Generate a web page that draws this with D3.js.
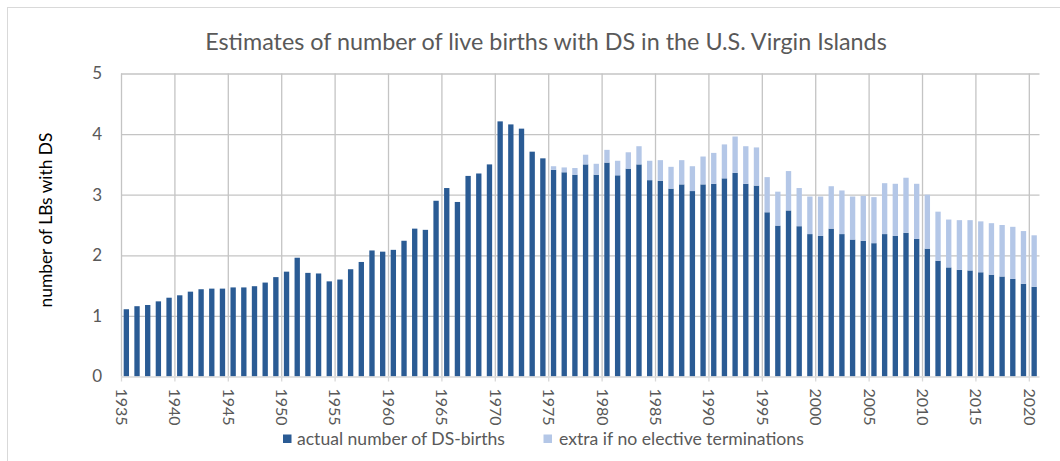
<!DOCTYPE html>
<html>
<head>
<meta charset="utf-8">
<script src="https://cdn.jsdelivr.net/npm/d3@7"></script>
<style>
  html, body { margin: 0; padding: 0; background: #fff; }
  svg { display: block; }
  text { font-family: Lato, "Open Sans", sans-serif; }
</style>
</head>
<body>
<svg id="chart" width="1060" height="461"></svg>
<script>
const years = [1935,1936,1937,1938,1939,1940,1941,1942,1943,1944,1945,1946,1947,1948,1949,
  1950,1951,1952,1953,1954,1955,1956,1957,1958,1959,1960,1961,1962,1963,1964,
  1965,1966,1967,1968,1969,1970,1971,1972,1973,1974,1975,1976,1977,1978,1979,
  1980,1981,1982,1983,1984,1985,1986,1987,1988,1989,1990,1991,1992,1993,1994,
  1995,1996,1997,1998,1999,2000,2001,2002,2003,2004,2005,2006,2007,2008,2009,
  2010,2011,2012,2013,2014,2015,2016,2017,2018,2019,2020];

const actual = [1.11,1.16,1.18,1.24,1.30,1.34,1.40,1.44,1.45,1.45,1.47,1.47,1.49,1.55,1.64,
  1.73,1.96,1.71,1.70,1.57,1.60,1.77,1.89,2.08,2.06,2.09,2.24,2.44,2.42,2.90,
  3.11,2.88,3.31,3.35,3.50,4.21,4.16,4.09,3.71,3.60,3.41,3.37,3.33,3.50,3.33,
  3.53,3.32,3.43,3.50,3.24,3.23,3.10,3.17,3.06,3.17,3.18,3.27,3.36,3.18,3.15,
  2.71,2.49,2.74,2.48,2.35,2.32,2.44,2.35,2.26,2.24,2.20,2.35,2.32,2.37,2.27,
  2.11,1.91,1.80,1.76,1.75,1.72,1.68,1.65,1.61,1.53,1.48];

const extra = [0,0,0,0,0,0,0,0,0,0,0,0,0,0,0,
  0,0,0,0,0,0,0,0,0,0,0,0,0,0,0,
  0,0,0,0,0,0,0,0,0,0,0.06,0.08,0.11,0.16,0.18,
  0.21,0.24,0.27,0.30,0.32,0.34,0.36,0.40,0.41,0.46,0.51,0.56,0.60,0.62,0.63,
  0.58,0.56,0.65,0.63,0.62,0.65,0.70,0.72,0.71,0.74,0.76,0.84,0.86,0.91,0.91,
  0.89,0.81,0.79,0.82,0.83,0.84,0.85,0.85,0.86,0.87,0.85];

const tickYears = [1935,1940,1945,1950,1955,1960,1965,1970,1975,1980,1985,1990,1995,2000,2005,2010,2015,2020];
const yTicks = [0,1,2,3,4,5];
const seriesNames = ["actual number of DS-births", "extra if no elective terminations"];
const titleText = "Estimates of number of live births with DS in the U.S. Virgin Islands";
const yTitleText = "number of LBs with DS";

const colors = ["#2A5B94", "#B4C7E7"];
const gray = "#595959";
const gridColor = "#C4C4C4";

const svg = d3.select("#chart");
const L = 121, R = 1039.5, T = 73.5, B = 376.5;

function fitWidth(sel, target) {
  let fs = parseFloat(sel.attr("font-size"));
  const w = sel.node().getComputedTextLength();
  if (w > 0) sel.attr("font-size", (fs * target / w).toFixed(2));
}

// chart border
svg.append("rect").attr("x", 7.5).attr("y", 7.5).attr("width", 1100).attr("height", 500)
  .attr("fill", "none").attr("stroke", "#D9D9D9").attr("stroke-width", 1);

const xBand = d3.scaleBand().domain(years).range([L, R]).paddingInner(0.5).paddingOuter(0.25);
const xLin = d3.scaleLinear().domain([1935, 2021]).range([L, R]);
const y = d3.scaleLinear().domain([0, 5]).range([B, T]);

// horizontal gridlines
svg.append("g").attr("transform", `translate(${L},0)`)
  .call(d3.axisLeft(y).tickValues(yTicks.filter(v => v > 0)).tickSize(-(R - L)).tickFormat(""))
  .call(g => g.select(".domain").remove())
  .call(g => g.selectAll("line").attr("stroke", gridColor).attr("stroke-width", 1.3));

// vertical gridlines
svg.append("g").attr("transform", `translate(0,${B})`)
  .call(d3.axisBottom(xLin).tickValues(tickYears).tickSize(-(B - T)).tickFormat(""))
  .call(g => g.select(".domain").remove())
  .call(g => g.selectAll("line").attr("stroke", gridColor).attr("stroke-width", 1.3));

// bars
const data = years.map((yr, i) => ({year: yr, a: actual[i], e: extra[i]}));
const bw = xBand.bandwidth();
svg.append("g").selectAll("rect").data(data).join("rect")
  .attr("x", d => xBand(d.year)).attr("width", bw)
  .attr("y", d => y(d.a)).attr("height", d => y(0) - y(d.a))
  .attr("fill", colors[0]);
svg.append("g").selectAll("rect").data(data.filter(d => d.e > 0)).join("rect")
  .attr("x", d => xBand(d.year)).attr("width", bw)
  .attr("y", d => y(d.a + d.e)).attr("height", d => y(d.a) - y(d.a + d.e))
  .attr("fill", colors[1]);

// x axis
const xAxis = svg.append("g").attr("transform", `translate(0,${B})`)
  .call(d3.axisBottom(xLin).tickValues(tickYears).tickSize(5).tickPadding(0).tickFormat(d3.format("d")));
xAxis.select(".domain").attr("stroke", "#D9D9D9").attr("stroke-width", 1.3).attr("d", `M${L},0.5H${R}`);
xAxis.selectAll(".tick line").attr("stroke", "#D9D9D9").attr("stroke-width", 1.3);
xAxis.selectAll(".tick text")
  .attr("transform", "translate(0,12) rotate(90)")
  .attr("x", 0).attr("y", 0).attr("dy", "0.35em")
  .attr("text-anchor", "start")
  .attr("font-family", "Lato, sans-serif")
  .attr("font-size", 16).attr("fill", gray);

// y axis labels
const yAxis = svg.append("g").attr("transform", `translate(${L},0)`)
  .call(d3.axisLeft(y).tickValues(yTicks).tickSize(0).tickPadding(19).tickFormat(d3.format("d")));
yAxis.select(".domain").remove();
yAxis.selectAll(".tick text").attr("font-family", "Lato, sans-serif").attr("font-size", 17).attr("fill", gray);

// title
const title = svg.append("text").attr("x", 546).attr("y", 50).attr("text-anchor", "middle")
  .attr("font-size", 20).attr("fill", gray).text(titleText);
fitWidth(title, 682);

// y title
const yt = svg.append("text").attr("transform", "translate(52,220) rotate(-90)")
  .attr("text-anchor", "middle").attr("font-size", 17).attr("fill", "#000").text(yTitleText);
fitWidth(yt, 175);

// legend
const legendItems = [
  {sx: 283, tx: 297, tw: 208},
  {sx: 543.5, tx: 559, tw: 245}
];
legendItems.forEach((li, i) => {
  svg.append("rect").attr("x", li.sx).attr("y", 434.5).attr("width", 8.5).attr("height", 8.5).attr("fill", colors[i]);
  const t = svg.append("text").attr("x", li.tx).attr("y", 445).attr("font-size", 16).attr("fill", gray).text(seriesNames[i]);
  fitWidth(t, li.tw);
});
</script>
</body>
</html>
